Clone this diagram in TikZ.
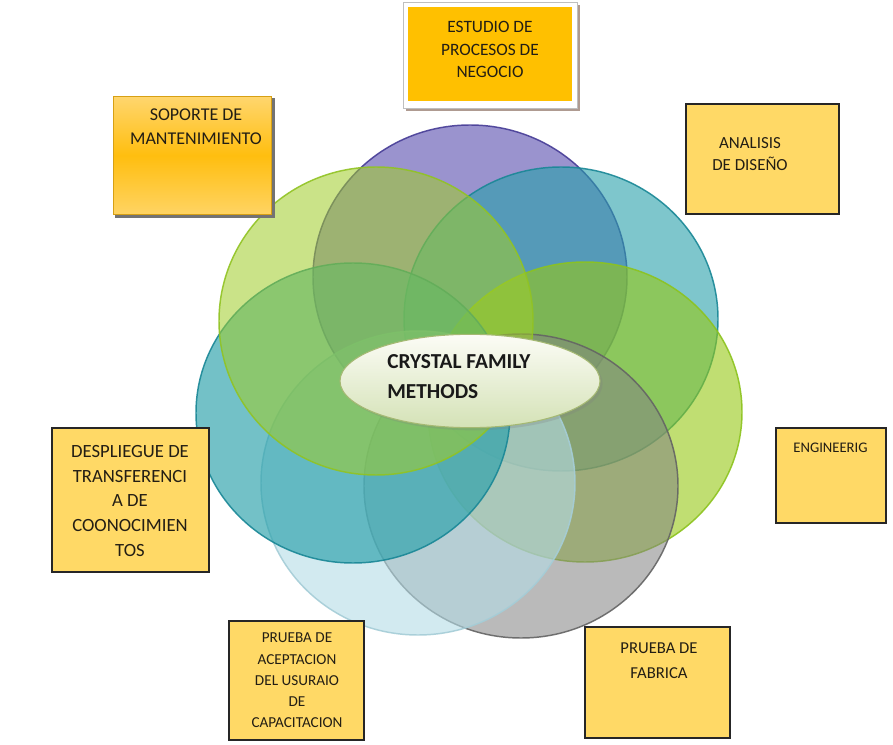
\documentclass[tikz,border=0pt]{standalone}
\usepackage{fontspec}
\setmainfont{Carlito}
\usetikzlibrary{shapes.geometric,shadows}
\definecolor{purplefill}{RGB}{100,90,180}
\definecolor{purpleedge}{RGB}{70,60,150}
\definecolor{tealfill}{RGB}{40,160,170}
\definecolor{tealedge}{RGB}{25,135,150}
\definecolor{ygfill}{RGB}{150,200,20}
\definecolor{ygedge}{RGB}{140,195,30}
\definecolor{grayfill}{RGB}{130,130,130}
\definecolor{grayedge}{RGB}{100,100,100}
\definecolor{palefill}{RGB}{180,220,230}
\definecolor{paleedge}{RGB}{165,205,215}
\definecolor{lgfill}{RGB}{160,205,40}
\definecolor{lgedge}{RGB}{145,195,35}
\definecolor{boxfill}{RGB}{255,217,102}
\definecolor{orangefill}{RGB}{255,192,0}
\definecolor{txt}{RGB}{35,30,20}
\definecolor{coreedge}{RGB}{165,185,115}
\definecolor{coretop}{RGB}{252,252,246}
\definecolor{corebot}{RGB}{212,226,182}
\definecolor{topshadow}{RGB}{175,155,145}
\definecolor{supedge}{RGB}{215,160,20}
\definecolor{suptop}{RGB}{255,214,110}
\definecolor{supmid}{RGB}{255,190,15}
\definecolor{supbot}{RGB}{255,212,100}
\tikzset{
  petal/.style n args={3}{draw=#1, fill=#2, fill opacity=#3, draw opacity=0.9, line width=1.1pt},
  plainbox/.style={draw=black!85, fill=boxfill, line width=1.4pt},
  boxtext/.style={text=txt, align=center, inner sep=0pt},
}
\begin{document}
\begin{tikzpicture}[x=0.75pt,y=-0.75pt]
\useasboundingbox (0,0) rectangle (893,745);
\fill[white] (0,0) rectangle (893,745);

% petals
\path[petal={purpleedge}{purplefill}{0.65}] (470,277) ellipse [x radius=157, y radius=152];
\path[petal={tealedge}{tealfill}{0.6}] (561,319) ellipse [x radius=157, y radius=152];
\path[petal={ygedge}{ygfill}{0.6}] (585,412) ellipse [x radius=157, y radius=150];
\path[petal={grayedge}{grayfill}{0.55}] (521,486) ellipse [x radius=157, y radius=152];
\path[petal={paleedge}{palefill}{0.6}] (418,483) ellipse [x radius=157, y radius=152];
\path[petal={tealedge}{tealfill}{0.65}] (353,413) ellipse [x radius=157, y radius=150];
\path[petal={lgedge}{lgfill}{0.55}] (376,321) ellipse [x radius=157, y radius=154];

% centre
\node (core) [ellipse, minimum width=195pt, minimum height=70pt, inner sep=0pt,
  draw=coreedge, line width=0.8pt, top color=coretop, bottom color=corebot,
  drop shadow={opacity=0.25, shadow xshift=2pt, shadow yshift=-2pt}] at (470,381) {};
\node (coretext) [anchor=west, align=left, inner sep=0pt, font=\fontsize{16}{22.5}\selectfont\bfseries, text=black!90]
  at (387,377) {CRYSTAL FAMILY\\METHODS};

% top box
\fill[topshadow] (406,5) rectangle (580,111);
\path[draw=black!25, fill=white, line width=0.6pt] (403,2) rectangle (577,108);
\node (estudio) [fill=orangefill, minimum width=123pt, minimum height=70pt, inner sep=0pt] at (490,54) {};
\node (estudiot) [boxtext, font=\fontsize{13}{16.9}\selectfont] at (490,49.5) {ESTUDIO DE\\PROCESOS DE\\NEGOCIO};

% soporte box
\fill[black!55] (115,98) rectangle (275,218);
\node (soporte) [draw=supedge, line width=0.8pt,
  top color=suptop, bottom color=supbot, middle color=supmid,
  minimum width=119pt, minimum height=89pt, inner sep=0pt] at (192.5,155.5) {};
\node (soportet) [boxtext, font=\fontsize{13.5}{18}\selectfont] at (196,127) {SOPORTE DE\\MANTENIMIENTO};

% analisis
\node (analisis) [plainbox, minimum width=115pt, minimum height=82pt, inner sep=0pt] at (762.5,159) {};
\node (analisist) [boxtext, font=\fontsize{12.7}{16.7}\selectfont] at (750,154) {ANALISIS\\DE DISEÑO};

% engineerig
\node (engineerig) [plainbox, minimum width=82.5pt, minimum height=71pt, inner sep=0pt] at (831,475.5) {};
\node (engineerigt) [boxtext, font=\fontsize{11}{14}\selectfont] at (830.5,448) {ENGINEERIG};

% despliegue
\node (despliegue) [plainbox, minimum width=117.5pt, minimum height=108pt, inner sep=0pt] at (130.5,500) {};
\node (desplieguet) [boxtext, font=\fontsize{14}{18.6}\selectfont] at (130,501) {DESPLIEGUE DE\\TRANSFERENCI\\A DE\\COONOCIMIEN\\TOS};

% aceptacion
\node (aceptacion) [plainbox, minimum width=101pt, minimum height=89pt, inner sep=0pt] at (296.5,680.5) {};
\node (aceptaciont) [boxtext, font=\fontsize{11.4}{15.9}\selectfont] at (297,680.5) {PRUEBA DE\\ACEPTACION\\DEL USURAIO\\DE\\CAPACITACION};

% fabrica
\node (fabrica) [plainbox, minimum width=108.5pt, minimum height=83pt, inner sep=0pt] at (657.5,682.5) {};
\node (fabricat) [boxtext, font=\fontsize{12.5}{18.5}\selectfont] at (659,660.5) {PRUEBA DE\\FABRICA};
\end{tikzpicture}
\end{document}
